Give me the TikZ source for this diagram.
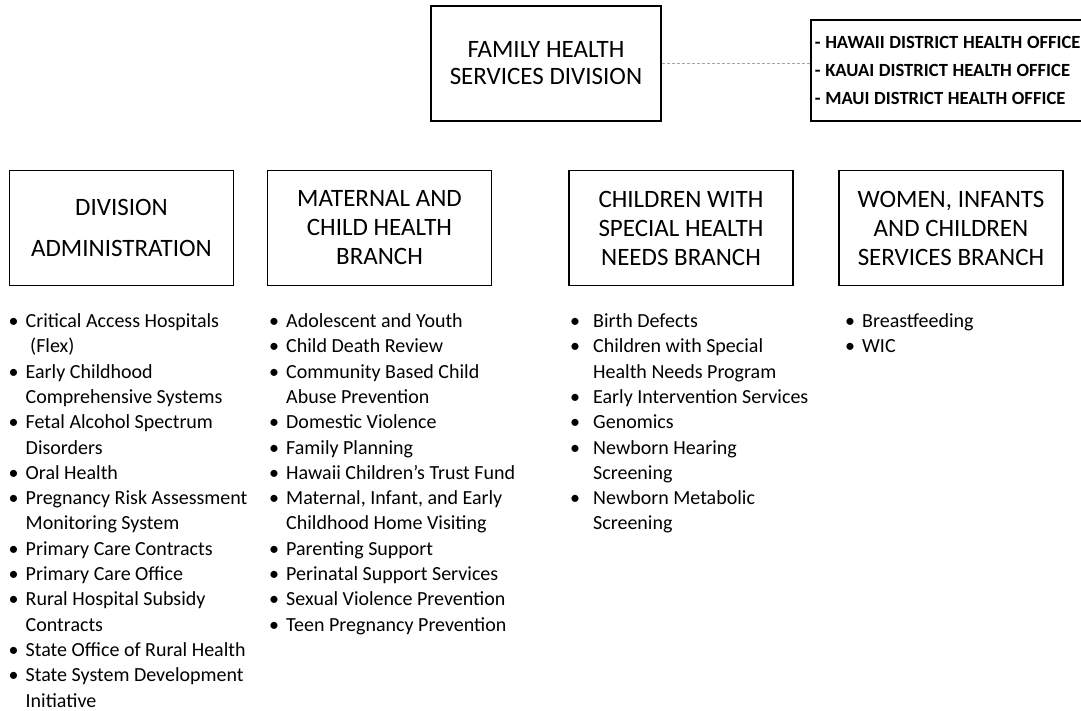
\documentclass[tikz,border=0pt]{standalone}
\usepackage{fontspec}
\setmainfont{Carlito}
\newcommand{\bl}[1]{\makebox[17pt][l]{•}#1}
\newcommand{\cn}[1]{\hspace*{17pt}#1}
\newcommand{\blw}[1]{\makebox[23pt][l]{•}#1}
\newcommand{\cnw}[1]{\hspace*{23pt}#1}
\newcommand{\tightsp}{\spaceskip=0.25em\relax}
\begin{document}
\begin{tikzpicture}[x=1pt,y=-1pt,
  box/.style={draw=black, line width=1.8pt, inner sep=0pt, align=center,
    minimum width=224pt, minimum height=115pt, font=\fontsize{25}{29}\selectfont},
  listnode/.style={anchor=base west, inner sep=0pt},
  link/.style={draw=gray!70, line width=1.1pt, dash pattern=on 3pt off 2pt}
]
\useasboundingbox (0,0) rectangle (1081,710);
\clip (0,0) rectangle (1081,710);

\node[box, minimum width=230pt, font=\fontsize{25}{27}\selectfont] (fhsd) at (546,63.5) {FAMILY HEALTH\\SERVICES DIVISION};
\node[draw=black, line width=1.8pt, anchor=west, inner xsep=4pt, inner ysep=0pt,
  minimum height=101pt, text width=290pt, align=left,
  font=\bfseries\fontsize{18.6}{28}\selectfont] (dho) at (810,70.5)
  {\tightsp - HAWAII DISTRICT HEALTH OFFICE\\- KAUAI DISTRICT HEALTH OFFICE\\- MAUI DISTRICT HEALTH OFFICE};
\draw[link] (fhsd.east) -- (dho.west |- fhsd.east);

\node[box] (admin) at (121.5,228) {DIVISION\\[12pt]ADMINISTRATION};
\node[box] (mch) at (379.5,228) {MATERNAL AND\\CHILD HEALTH\\BRANCH};
\node[box] (cshn) at (681,228) {CHILDREN WITH\\SPECIAL HEALTH\\NEEDS BRANCH};
\node[box] (wic) at (951,228) {WOMEN, INFANTS\\AND CHILDREN\\SERVICES BRANCH};

\node[listnode] (l1) at (8.5,327.5) {\parbox[t]{260pt}{\raggedright\fontsize{20}{25.3}\selectfont
\bl{Critical Access Hospitals}\\
\cn{\ (Flex)}\\
\bl{Early Childhood}\\
\cn{Comprehensive Systems}\\
\bl{Fetal Alcohol Spectrum}\\
\cn{Disorders}\\
\bl{Oral Health}\\
\bl{Pregnancy Risk Assessment}\\
\cn{Monitoring System}\\
\bl{Primary Care Contracts}\\
\bl{Primary Care Office}\\
\bl{Rural Hospital Subsidy}\\
\cn{Contracts}\\
\bl{State Office of Rural Health}\\
\bl{State System Development}\\
\cn{Initiative}}};

\node[listnode] (l2) at (269,327.5) {\parbox[t]{290pt}{\raggedright\fontsize{20}{25.3}\selectfont
\bl{Adolescent and Youth}\\
\bl{Child Death Review}\\
\bl{Community Based Child}\\
\cn{Abuse Prevention}\\
\bl{Domestic Violence}\\
\bl{Family Planning}\\
\bl{Hawaii Children’s Trust Fund}\\
\bl{Maternal, Infant, and Early}\\
\cn{Childhood Home Visiting}\\
\bl{Parenting Support}\\
\bl{Perinatal Support Services}\\
\bl{Sexual Violence Prevention}\\
\bl{Teen Pregnancy Prevention}}};

\node[listnode] (l3) at (570,327.5) {\parbox[t]{260pt}{\raggedright\fontsize{20}{25.3}\selectfont
\blw{Birth Defects}\\
\blw{Children with Special}\\
\cnw{Health Needs Program}\\
\blw{Early Intervention Services}\\
\blw{Genomics}\\
\blw{Newborn Hearing}\\
\cnw{Screening}\\
\blw{Newborn Metabolic}\\
\cnw{Screening}}};

\node[listnode] (l4) at (845,327.5) {\parbox[t]{200pt}{\raggedright\fontsize{20}{25.3}\selectfont
\bl{Breastfeeding}\\
\bl{WIC}}};
\end{tikzpicture}
\end{document}
